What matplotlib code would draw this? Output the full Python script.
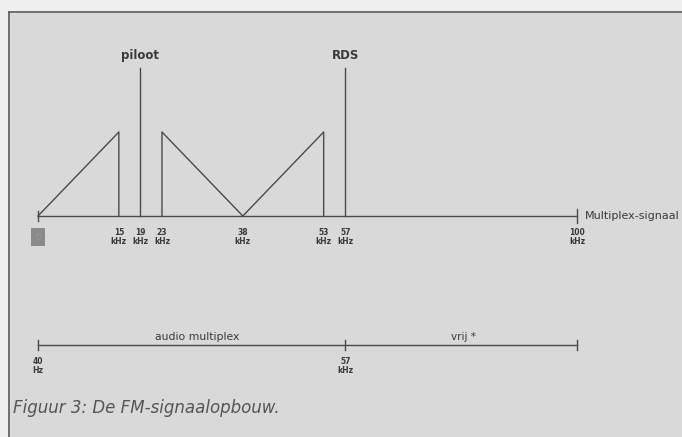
import matplotlib
matplotlib.use('Agg')
import matplotlib.pyplot as plt
from matplotlib.lines import Line2D
from matplotlib.patches import Rectangle

# spectrum parts (kHz, relative height)
mono_f = [0, 15, 15]
mono_h = [0, 1, 0]
lsb_f = [23, 23, 38]
lsb_h = [0, 1, 0]
usb_f = [38, 53, 53]
usb_h = [0, 1, 0]
pilot_f = 19
rds_f = 57
carrier_h = 1.76
axis_end = 100

tick_f = [15, 19, 23, 38, 53, 57, 100]
tick_lbl = ['15\nkHz', '19\nkHz', '23\nkHz', '38\nkHz', '53\nkHz', '57\nkHz', '100\nkHz']

# lower bar: band split
band_edges = [0, 57, 100]
band_lbl = ['40\nHz', '57\nkHz']
band_names = ['audio multiplex', 'vrij *']

ink = '#4a4a4a'
txt = '#3a3a3a'
W, H = 682, 437
fig = plt.figure(figsize=(W / 100, H / 100), dpi=100, facecolor='#d9d9d9')
ax = fig.add_axes([0, 0, 1, 1])
ax.set_facecolor('#d9d9d9')
ax.axis('off')

# map: 0 kHz -> x=38px, 100 kHz -> x=577px; y=0 -> 216px, 1 -> 132px
sx = (577 - 38) / 100
sy = 216 - 132
ax.set_xlim(-38 / sx, (W - 38) / sx)
ax.set_ylim((216 - H) / sy, 216 / sy)

# page frame
fig.patches.append(Rectangle((0, 1 - 12 / H), 1, 12 / H, transform=fig.transFigure,
                             color='#efefef', zorder=0))
fig.patches.append(Rectangle((0, 0), 9 / W, 1, transform=fig.transFigure,
                             color='#efefef', zorder=0))
fig.lines.append(Line2D([9 / W, 1], [1 - 12 / H] * 2, transform=fig.transFigure,
                        color='#5a5a5a', lw=1.2))
fig.lines.append(Line2D([9 / W] * 2, [0, 1 - 12 / H], transform=fig.transFigure,
                        color='#5a5a5a', lw=1.2))

# spectrum
for f, h in [(mono_f, mono_h), (lsb_f, lsb_h), (usb_f, usb_h)]:
    ax.plot(f, h, color=ink, lw=1)
ax.plot([0, axis_end], [0, 0], color=ink, lw=1)
ax.plot([axis_end, axis_end], [-0.08, 0.08], color=ink, lw=1)
ax.plot([0, 0], [-0.06, 0.06], color=ink, lw=1)
for f, name in [(pilot_f, 'piloot'), (rds_f, 'RDS')]:
    ax.plot([f, f], [0, carrier_h], color=ink, lw=1)
    ax.text(f, carrier_h + 0.07, name, ha='center', va='bottom', fontsize=8.5,
            color=txt, fontweight='bold')
ax.text(axis_end + 1.5, 0, 'Multiplex-signaal', ha='left', va='center', fontsize=8,
        color=txt)
for f, t in zip(tick_f, tick_lbl):
    ax.text(f, -0.14, t, ha='center', va='top', fontsize=5.5, color=txt,
            fontweight='bold', linespacing=1.0)
ax.text(0, -0.2, '0', ha='center', va='top', fontsize=6, color='#9a9a9a',
        bbox=dict(boxstyle='square,pad=0.55', fc='#8a8a8a', ec='none'))

# lower bar
yb = (216 - 345) / sy
ax.plot([band_edges[0], band_edges[-1]], [yb, yb], color=ink, lw=1)
for f in band_edges:
    ax.plot([f, f], [yb - 0.06, yb + 0.06], color=ink, lw=1)
for f, t in zip(band_edges[:2], band_lbl):
    ax.text(f, yb - 0.14, t, ha='center', va='top', fontsize=5.5, color=txt,
            fontweight='bold', linespacing=1.0)
ax.text(29.5, yb + 0.04, band_names[0], ha='center', va='bottom', fontsize=7.8,
        color=txt)
ax.text(79, yb + 0.04, band_names[1], ha='center', va='bottom', fontsize=7.5,
        color=txt)

fig.text(13 / W, 1 - 408 / H, 'Figuur 3: De FM-signaalopbouw.', ha='left', va='center',
         fontsize=12, style='italic', color='#555555')

fig.savefig('out.png', dpi=100, facecolor=fig.get_facecolor())
